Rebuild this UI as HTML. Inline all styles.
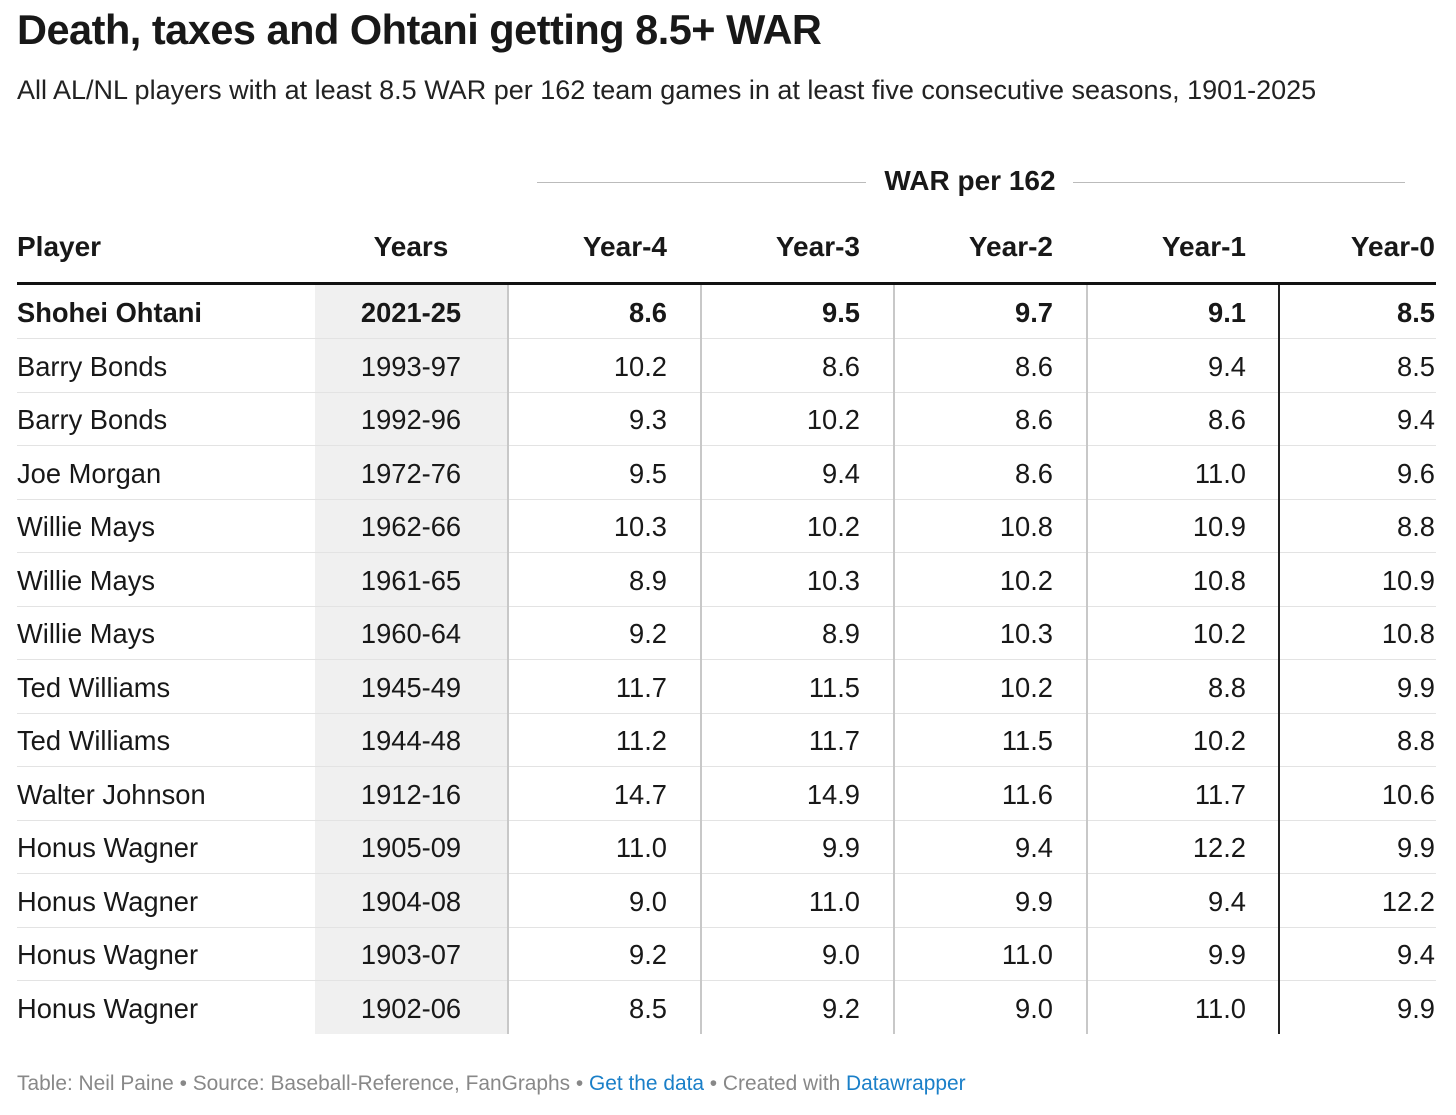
<!DOCTYPE html>
<html><head><meta charset="utf-8">
<style>
body{margin:0;width:1456px;height:1115px;background:#fff;font-family:"Liberation Sans",Arial,sans-serif;color:#181818;position:relative;overflow:hidden}
.a{position:absolute;white-space:nowrap}
#title{left:17px;top:6px;font-size:41.5px;font-weight:bold;letter-spacing:-0.5px}
#sub{left:17px;top:75px;font-size:27px;color:#222}
.hd{font-size:28px;font-weight:bold}
.cell{font-size:27.3px;line-height:53.5px;height:53.5px}
#foot{left:17px;top:1072px;font-size:20.9px;color:#888}
#foot span.l{color:#1a7fc8}
</style></head><body>
<div class="a" id="title">Death, taxes and Ohtani getting 8.5+ WAR</div>
<div class="a" id="sub">All AL/NL players with at least 8.5 WAR per 162 team games in at least five consecutive seasons, 1901-2025</div>
<div class="a" style="left:537px;top:182px;width:329px;height:1px;background:#bbb"></div>
<div class="a" style="left:1073px;top:182px;width:332px;height:1px;background:#bbb"></div>
<div class="a hd" style="left:860px;width:220px;text-align:center;top:165px">WAR per 162</div>
<div id="tbl"></div>
<div class="a" style="left:17px;top:282px;width:1419px;height:3px;background:#111"></div>
<div class="a" id="foot">Table: Neil Paine • Source: Baseball-Reference, FanGraphs • <span class="l">Get the data</span> • Created with <span class="l">Datawrapper</span></div>
<script>
const players=["Shohei Ohtani","Barry Bonds","Barry Bonds","Joe Morgan","Willie Mays","Willie Mays","Willie Mays","Ted Williams","Ted Williams","Walter Johnson","Honus Wagner","Honus Wagner","Honus Wagner","Honus Wagner"];
const years=["2021-25","1993-97","1992-96","1972-76","1962-66","1961-65","1960-64","1945-49","1944-48","1912-16","1905-09","1904-08","1903-07","1902-06"];
const columns=["Year-4","Year-3","Year-2","Year-1","Year-0"];
const year4=[8.6,10.2,9.3,9.5,10.3,8.9,9.2,11.7,11.2,14.7,11.0,9.0,9.2,8.5];
const year3=[9.5,8.6,10.2,9.4,10.2,10.3,8.9,11.5,11.7,14.9,9.9,11.0,9.0,9.2];
const year2=[9.7,8.6,8.6,8.6,10.8,10.2,10.3,10.2,11.5,11.6,9.4,9.9,11.0,9.0];
const year1=[9.1,9.4,8.6,11.0,10.9,10.8,10.2,8.8,10.2,11.7,12.2,9.4,9.9,11.0];
const year0=[8.5,8.5,9.4,9.6,8.8,10.9,10.8,9.9,8.8,10.6,9.9,12.2,9.4,9.9];
const series=[year4,year3,year2,year1,year0];
const T=document.getElementById('tbl');
const top0=286,rh=53.5;
const colRight=[667,860,1053,1246,1435];
function add(html,style,name,cls){const d=document.createElement('div');d.className='a '+(cls||'');d.style.cssText=style;d.textContent=html;


T.appendChild(d);return d;}
add('','left:315px;top:285px;width:192px;height:'+(rh*players.length)+'px;background:#f0f0f0','years-column-bg');
add('Player','left:17px;top:231px','header-player','hd');
add('Years','left:315px;width:192px;text-align:center;top:231px','header-years','hd');
columns.forEach((c,j)=>{add(c,'left:'+(colRight[j]-180)+'px;width:180px;text-align:right;top:231px','header-'+c.toLowerCase(),'hd');});
players.forEach((p,i)=>{
 const y=top0+i*rh;const b=i===0?'font-weight:bold;':'';
 if(i>0) add('','left:17px;top:'+(y-1.5)+'px;width:1419px;height:1px;background:#e3e3e3','row-separator');
 add(p,b+'left:17px;top:'+y+'px','player-name','cell');
 add(years[i],b+'left:315px;width:192px;text-align:center;top:'+y+'px','years-cell','cell');
 series.forEach((s,j)=>{add(s[i].toFixed(1),b+'left:'+(colRight[j]-180)+'px;width:180px;text-align:right;top:'+y+'px','value-'+columns[j].toLowerCase(),'cell');});
});
const H=rh*players.length;
[507,700,893,1086].forEach(x=>add('','left:'+x+'px;top:285px;width:2px;height:'+H+'px;background:#c8c8c8','column-divider'));
add('','left:1278px;top:285px;width:2px;height:'+H+'px;background:#222','column-divider-dark');
</script>
</body></html>
